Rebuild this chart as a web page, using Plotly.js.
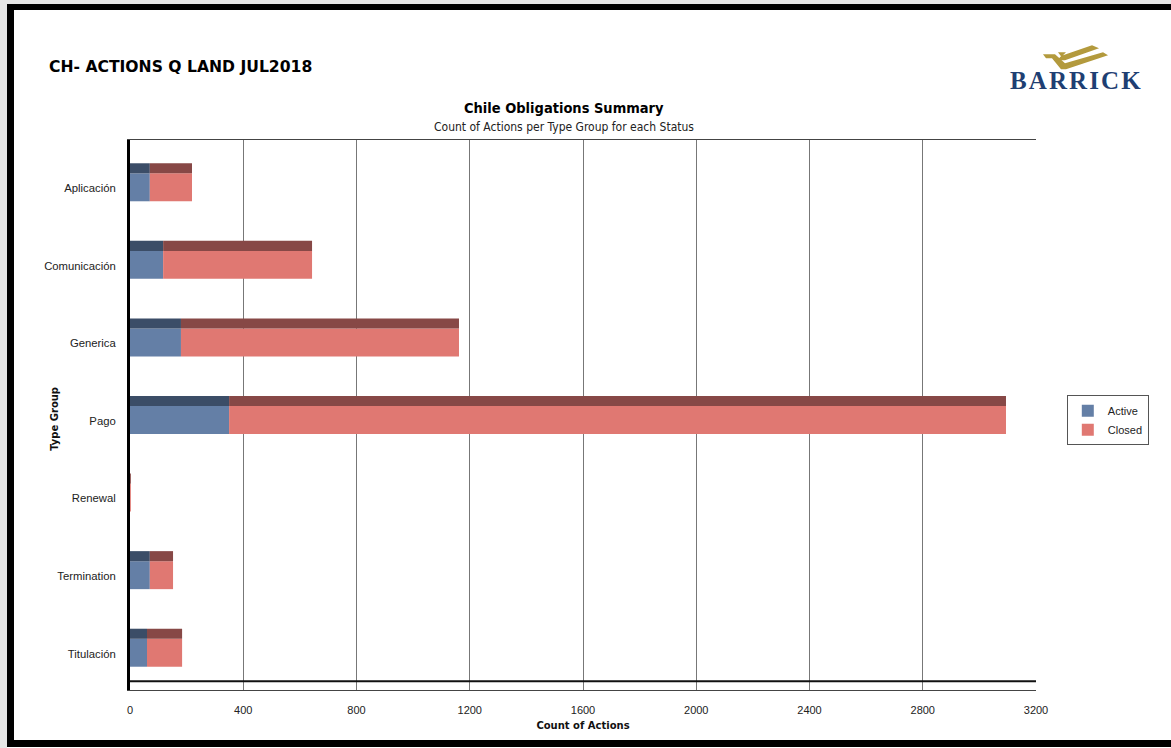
<!DOCTYPE html>
<html>
<head>
<meta charset="utf-8">
<script src="https://cdn.plot.ly/plotly-3.0.1.min.js"></script>
<style>
  html, body { margin: 0; padding: 0; background: #ffffff; }
  #wrap { position: relative; width: 1171px; height: 748px; overflow: hidden; background: #ffffff; }
  #chart { position: absolute; left: 0; top: 0; width: 1171px; height: 748px; }
  #frame { position: absolute; left: 7px; top: 4px; width: 1180px; height: 730px;
           border-left: 7px solid #000; border-top: 6px solid #000; border-bottom: 7px solid #000;
           pointer-events: none; }
  #shade { position: absolute; left: 0; top: 0; width: 1171px; height: 748px; pointer-events: none;
           border-left: 7px solid #e6e6e6; border-top: 4px solid #e6e6e6; box-sizing: border-box; }
</style>
</head>
<body>
<div id="wrap">
  <div id="chart"></div>
  <div id="shade"></div>
  <div id="frame"></div>
</div>
<script>
// ---- data ----
const categories = ['Aplicación', 'Comunicación', 'Generica', 'Pago', 'Renewal', 'Termination', 'Titulación'];
const active = [70, 117, 180, 350, 0, 70, 60];
const closed = [149, 526, 982, 2744, 3, 82, 124];
const xTicks = [0, 400, 800, 1200, 1600, 2000, 2400, 2800, 3200];

// ---- styling ----
const activeFront = '#647fa6', activeTop = '#3b4d67';
const closedFront = '#e07872', closedTop = '#874846';
const frontOffset = -0.19, frontWidth = 0.36;
const topOffset = -0.32, topWidth = 0.13;

function bar(name, xVals, base, color, offset, width, showlegend) {
  return {
    type: 'bar', orientation: 'h', name: name,
    y: categories, x: xVals, base: base,
    offset: offset, width: width,
    marker: { color: color, line: { width: 0 } },
    showlegend: showlegend, hoverinfo: 'x+y+name'
  };
}

const traces = [
  bar('Active', active, 0, activeFront, frontOffset, frontWidth, true),
  bar('Closed', closed, active, closedFront, frontOffset, frontWidth, true),
  bar('Active top', active, 0, activeTop, topOffset, topWidth, false),
  bar('Closed top', closed, active, closedTop, topOffset, topWidth, false)
];

const goldChevron = 'data:image/svg+xml;utf8,' + encodeURIComponent(
  '<svg xmlns="http://www.w3.org/2000/svg" width="70" height="30" viewBox="0 0 70 30">' +
  '<polygon fill="#b39a3d" points="18,9 26,9 23,12 52,2 59,5 25,17 17,17 21,13"/>' +
  '<polygon fill="#b39a3d" points="3,11 15,11 25,20 63,9 68,12 26,26 21,26 12,15 6,15"/>' +
  '</svg>');

const hair = '\u200A';
const logoText = 'BARRICK'.split('').join(hair);

const layout = {
  width: 1171, height: 748,
  margin: { l: 130, r: 135, t: 140, b: 58 },
  paper_bgcolor: 'rgba(0,0,0,0)', plot_bgcolor: '#ffffff',
  barmode: 'overlay',
  font: { family: 'Liberation Sans, Arial, sans-serif', size: 11, color: '#222222' },
  xaxis: {
    range: [0, 3200], tickvals: xTicks, ticktext: xTicks.map(String),
    showgrid: true, gridcolor: '#777777', gridwidth: 1,
    zeroline: false, showline: true, linecolor: '#444444', linewidth: 1, mirror: true,
    ticks: '', ticklabelstandoff: 10,
    tickfont: { family: 'Liberation Sans, Arial, sans-serif', size: 11, color: '#222222' },
    title: { text: 'Count of Actions', standoff: 6,
             font: { family: 'DejaVu Sans, sans-serif', size: 10, color: '#111111', weight: 'bold' } }
  },
  yaxis: {
    type: 'category', categoryorder: 'array', categoryarray: categories,
    range: [6.47, -0.62], autorange: false,
    showgrid: false, zeroline: false, showline: true, linecolor: '#000000', linewidth: 3, mirror: false,
    ticks: '', ticklabelstandoff: 9,
    tickfont: { family: 'Liberation Sans, Arial, sans-serif', size: 11.3, color: '#222222' }
  },
  legend: {
    x: 1.034, xanchor: 'left', y: 0.536, yanchor: 'top',
    bordercolor: '#555555', borderwidth: 1, bgcolor: '#ffffff',
    font: { family: 'Liberation Sans, Arial, sans-serif', size: 11, color: '#222222' },
    traceorder: 'normal', itemwidth: 30, tracegroupgap: 0
  },
  shapes: [
    // 3D floor line
    { type: 'line', xref: 'paper', yref: 'paper', x0: 0, x1: 1, y0: 0.016, y1: 0.016,
      line: { color: '#111111', width: 2 } }
  ],
  annotations: [
    { text: '<b>CH- ACTIONS Q LAND JUL2018</b>', xref: 'paper', yref: 'paper',
      x: -0.0915, y: 1.133, xanchor: 'left', yanchor: 'middle', showarrow: false,
      font: { family: 'DejaVu Sans, Verdana, sans-serif', size: 15.6, color: '#000000' } },
    { text: '<b>Chile Obligations Summary</b>', xref: 'paper', yref: 'paper',
      x: 0.479, y: 1.058, xanchor: 'center', yanchor: 'middle', showarrow: false,
      font: { family: 'DejaVu Sans Condensed, DejaVu Sans, sans-serif', size: 14.5, color: '#000000' } },
    { text: 'Count of Actions per Type Group for each Status', xref: 'paper', yref: 'paper',
      x: 0.479, y: 1.024, xanchor: 'center', yanchor: 'middle', showarrow: false,
      font: { family: 'DejaVu Sans Condensed, DejaVu Sans, sans-serif', size: 12, color: '#222222' } },
    { text: '<b>Type Group</b>', xref: 'paper', yref: 'paper', textangle: -90,
      x: -0.0828, y: 0.493, xanchor: 'center', yanchor: 'middle', showarrow: false,
      font: { family: 'DejaVu Sans, sans-serif', size: 10, color: '#111111' } },
    { text: '<b>' + logoText + '</b>', xref: 'paper', yref: 'paper',
      x: 1.044, y: 1.109, xanchor: 'center', yanchor: 'middle', showarrow: false,
      font: { family: 'Liberation Serif, Times New Roman, serif', size: 25, color: '#1f3f73' } }
  ],
  images: [
    { source: goldChevron, xref: 'paper', yref: 'paper',
      x: 1.0044, y: 1.176, sizex: 0.0773, sizey: 0.0545, xanchor: 'left', yanchor: 'top',
      sizing: 'stretch', layer: 'above' }
  ]
};

Plotly.newPlot('chart', traces, layout, { displayModeBar: false, staticPlot: true });
</script>
</body>
</html>
